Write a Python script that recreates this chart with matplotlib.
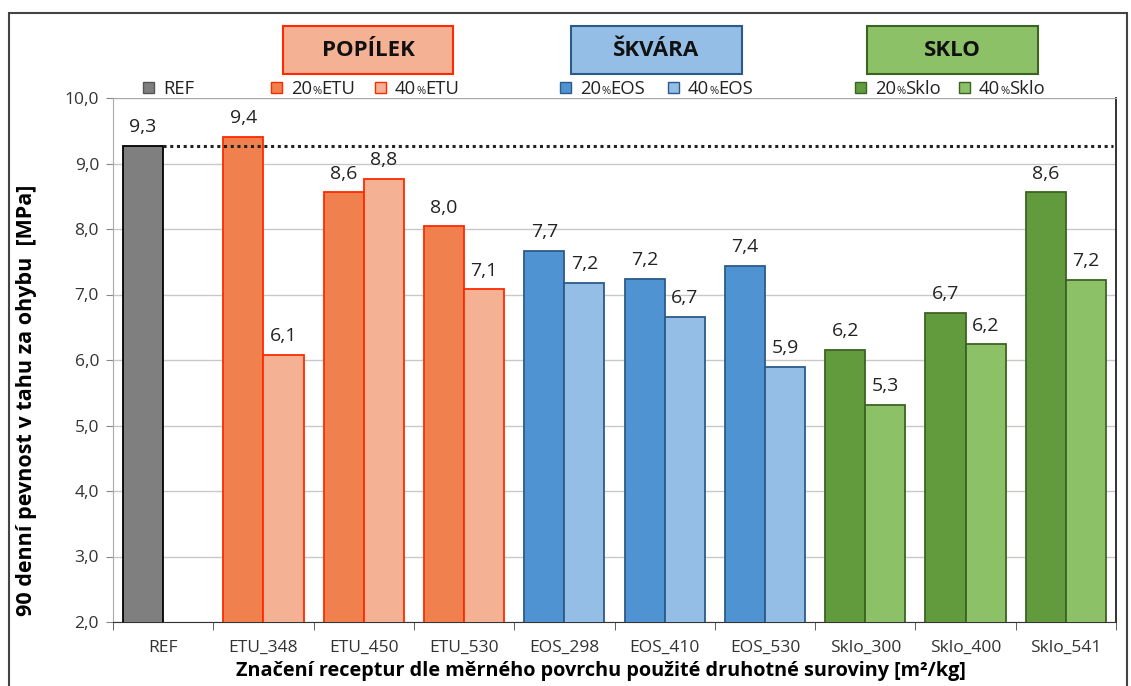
import matplotlib.pyplot as plt
from matplotlib.patches import Rectangle

plt.rcParams['font.family'] = ['Open Sans', 'DejaVu Sans']

cats = ["REF", "ETU_348", "ETU_450", "ETU_530", "EOS_298", "EOS_410", "EOS_530",
        "Sklo_300", "Sklo_400", "Sklo_541"]
ref_val = 9.27
v20 = [9.41, 8.56, 8.04, 7.67, 7.24, 7.44, 6.16, 6.72, 8.56]
v40 = [6.08, 8.77, 7.08, 7.18, 6.66, 5.90, 5.31, 6.24, 7.22]

# colours per material (ETU x3, EOS x3, Sklo x3)
fill20 = ["#F0814F"] * 3 + ["#4F93D2"] * 3 + ["#629A3E"] * 3
fill40 = ["#F4B194"] * 3 + ["#95BEE6"] * 3 + ["#8DC168"] * 3
edges = ["#FF2A00"] * 3 + ["#2B5B8A"] * 3 + ["#3B6322"] * 3

W, H = 1131, 686
fig = plt.figure(figsize=(W / 100, H / 100), dpi=100)
ax = fig.add_axes([113 / W, 1 - 622 / H, (1116 - 113) / W, (622 - 98) / H])

bw = 0.4
x = list(range(1, len(cats)))
ax.bar(0 - bw / 2, ref_val, bw, color="#7F7F7F", edgecolor="black", linewidth=1.3, zorder=3)
ax.bar([i - bw / 2 for i in x], v20, bw, color=fill20, edgecolor=edges, linewidth=1.3, zorder=3)
ax.bar([i + bw / 2 for i in x], v40, bw, color=fill40, edgecolor=edges, linewidth=1.3, zorder=3)

# value labels
def lab(xp, v):
    ax.annotate(f"{v:.1f}".replace(".", ","), (xp, v), xytext=(0, 7), textcoords="offset points",
                ha="center", va="bottom", fontsize=14, color="#222222")

lab(-bw / 2, ref_val)
for i, a, b in zip(x, v20, v40):
    lab(i - bw / 2, a)
    lab(i + bw / 2, b)

# dotted reference line
ax.plot([0, 9.47], [ref_val, ref_val], color="#222222", linestyle=(0, (1, 1.2)), linewidth=2.2, zorder=4)

ax.set_xlim(-0.5, 9.5)
ax.set_ylim(2, 10)
ax.set_yticks(range(2, 11))
ax.set_yticklabels([f"{t},0" for t in range(2, 11)], fontsize=12.5, color="#333333")
ax.set_xticks(range(len(cats)))
ax.set_xticklabels(cats, fontsize=12.5, color="#333333")
ax.set_xticks([i + 0.5 for i in range(-1, len(cats))], minor=True)
ax.tick_params(axis="x", which="major", length=0, pad=13)
ax.tick_params(axis="x", which="minor", length=6, color="#444444")
ax.tick_params(axis="y", length=5, color="#888888", pad=5)
ax.grid(axis="y", color="#C8C8C8", linewidth=1, zorder=0)
ax.set_axisbelow(True)
for s in ["left", "top"]:
    ax.spines[s].set_color("#AAAAAA")
ax.spines["bottom"].set_color("#333333")
ax.spines["right"].set_color("#222222")
ax.spines["right"].set_linewidth(1.3)

ax.set_ylabel("90 denní pevnost v tahu za ohybu  [MPa]", fontsize=15.5, fontweight="bold")
ax.yaxis.set_label_coords((37 - 113) / 1003, 0.424)
ax.set_xlabel("Značení receptur dle měrného povrchu použité druhotné suroviny [m²/kg]",
              fontsize=14.3, fontweight="bold")
ax.xaxis.set_label_coords(0.486, -0.074)

# outer frame
fig.patches.append(Rectangle((9 / W, -0.01), (1127 - 9) / W, 1.01 - 13 / H, transform=fig.transFigure,
                             fill=False, edgecolor="#444444", linewidth=1.5))

# group header boxes
heads = [("POPÍLEK", 283, 453, "#F4B194", "#FF2A00"),
         ("ŠKVÁRA", 571, 742, "#95BEE6", "#2B5B8A"),
         ("SKLO", 867, 1038, "#8DC168", "#3B6322")]
for t, x0, x1, fc, ec in heads:
    fig.patches.append(Rectangle((x0 / W, 1 - 74 / H), (x1 - x0) / W, 48 / H, transform=fig.transFigure,
                                 facecolor=fc, edgecolor=ec, linewidth=1.5))
    fig.text((x0 + x1) / 2 / W, 1 - 50 / H, t, ha="center", va="center", fontsize=16, fontweight="bold",
             color="#111111")

# legend row
leg = [("REF", None, 143, "#7F7F7F", "#555555"),
       ("20", "ETU", 271, "#F0814F", "#FF2A00"), ("40", "ETU", 375, "#F4B194", "#FF2A00"),
       ("20", "EOS", 560, "#4F93D2", "#2B5B8A"), ("40", "EOS", 668, "#95BEE6", "#2B5B8A"),
       ("20", "Sklo", 855, "#629A3E", "#3B6322"), ("40", "Sklo", 959, "#8DC168", "#3B6322")]
ly = 1 - 87 / H
for a, b, xs, fc, ec in leg:
    fig.patches.append(Rectangle((xs / W, ly - 5.5 / H), 11 / W, 11 / H, transform=fig.transFigure,
                                 facecolor=fc, edgecolor=ec, linewidth=1))
    t1 = fig.text((xs + 20) / W, ly, a, ha="left", va="center_baseline", fontsize=13.3, color="#222222")
    if b:
        t2 = ax.annotate("%", xy=(1, 0), xycoords=t1, xytext=(0, 1), textcoords="offset points",
                         fontsize=8, color="#222222", ha="left", va="bottom", annotation_clip=False)
        ax.annotate(b, xy=(1, 0), xycoords=t2, xytext=(0, -1), textcoords="offset points",
                    fontsize=13.3, color="#222222", ha="left", va="bottom", annotation_clip=False)

fig.savefig("out.png", dpi=100)
